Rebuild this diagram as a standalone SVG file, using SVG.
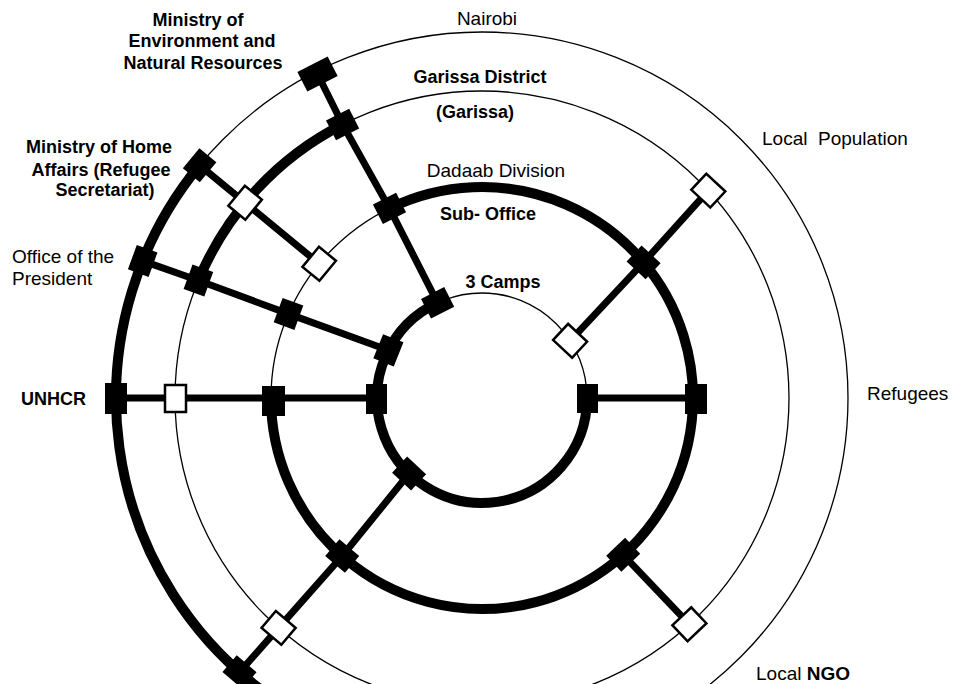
<svg xmlns="http://www.w3.org/2000/svg" xmlns:xlink="http://www.w3.org/1999/xlink" width="954" height="684" viewBox="0 0 954 684">
<style>
.thin{fill:none;stroke:#000;stroke-width:1.3}
.thick{fill:none;stroke:#000;stroke-width:10}
.spoke{fill:none;stroke:#000;stroke-width:7;stroke-linejoin:round}
.blk{fill:#000}
.opn{fill:#fff;stroke:#000;stroke-width:2.5}
text{font-family:"Liberation Sans",Arial,sans-serif;fill:#000}
.b{font-weight:bold;font-size:18px}
.r{font-size:19px}
.c{text-anchor:middle}
</style>
<defs>
<rect id="sq" x="-11" y="-13" width="22" height="26"/>
<rect id="sqw" x="-11" y="-17" width="22" height="34"/>
</defs>
<rect width="954" height="684" fill="#fff"/>
<g id="rings">
<circle class="thin" cx="482" cy="398" r="105"/>
<circle class="thin" cx="482" cy="398" r="211"/>
<circle class="thin" cx="482" cy="398" r="307"/>
<circle class="thin" cx="482" cy="398" r="366"/>
<path class="thick" d="M587 398A105 105 0 1 1 437.6 302.8"/>
<path class="thick" d="M389.5 208.4A211 211 0 1 1 271 398"/>
<path class="thick" d="M198.4 280.5A307 307 0 0 1 342.6 124.5"/>
<path class="thick" d="M272.1 697.8A366 366 0 0 1 199.6 165.2"/>
</g>
<g id="connectors">
<polyline class="spoke" points="317.5,74 342.6,124.5 389.5,208.4 437.6,302.8"/>
<polyline class="spoke" points="199.6,165.2 245.1,202.7 319.2,263.8"/>
<polyline class="spoke" points="142.7,260.9 198.4,280.5 288.5,313.9 388.4,350.3"/>
<polyline class="spoke" points="116,398 377,398"/>
<polyline class="spoke" points="239.5,672.1 278.6,627.9 342.2,556 409.1,473.5"/>
<polyline class="spoke" points="570.1,340.8 643.6,262.4 708.3,190.6"/>
<polyline class="spoke" points="587,398 693,398"/>
<polyline class="spoke" points="623.2,554.8 689.4,624.3"/>
</g>
<g id="n-env-nairobi"><use xlink:href="#sqw" class="blk" transform="translate(317.5,74) rotate(63)"/></g>
<g id="n-env-garissa"><use xlink:href="#sq" class="blk" transform="translate(342.6,124.5) rotate(63)"/></g>
<g id="n-env-dadaab"><use xlink:href="#sq" class="blk" transform="translate(389.5,208.4) rotate(63)"/></g>
<g id="n-env-camps"><use xlink:href="#sq" class="blk" transform="translate(437.6,302.8) rotate(63)"/></g>
<g id="n-home-nairobi"><use xlink:href="#sq" class="blk" transform="translate(199.6,165.2) rotate(39.5)"/></g>
<g id="n-home-garissa"><use xlink:href="#sq" class="opn" transform="translate(245.1,202.7) rotate(39.5)"/></g>
<g id="n-home-dadaab"><use xlink:href="#sq" class="opn" transform="translate(319.2,263.8) rotate(39.5)"/></g>
<g id="n-pres-nairobi"><use xlink:href="#sq" class="blk" transform="translate(142.7,260.9) rotate(20)"/></g>
<g id="n-pres-garissa"><use xlink:href="#sq" class="blk" transform="translate(198.4,280.5) rotate(20)"/></g>
<g id="n-pres-dadaab"><use xlink:href="#sq" class="blk" transform="translate(288.5,313.9) rotate(20)"/></g>
<g id="n-pres-camps"><use xlink:href="#sq" class="blk" transform="translate(388.4,350.3) rotate(22)"/></g>
<g id="n-unhcr-nairobi"><rect class="blk" x="105" y="383" width="22" height="31"/></g>
<g id="n-unhcr-garissa"><rect class="opn" x="165" y="385" width="21" height="27"/></g>
<g id="n-unhcr-dadaab"><rect class="blk" x="262" y="386" width="23" height="30"/></g>
<g id="n-unhcr-camps"><rect class="blk" x="366" y="384" width="21" height="30"/></g>
<g id="n-ll-nairobi"><use xlink:href="#sq" class="blk" transform="translate(239.5,672.1) rotate(-49.5)"/></g>
<g id="n-ll-garissa"><use xlink:href="#sq" class="opn" transform="translate(278.6,627.9) rotate(-49.5)"/></g>
<g id="n-ll-dadaab"><use xlink:href="#sq" class="blk" transform="translate(342.2,556) rotate(-49.5)"/></g>
<g id="n-ll-camps"><use xlink:href="#sq" class="blk" transform="translate(409.1,473.5) rotate(-47)"/></g>
<g id="n-pop-camps"><use xlink:href="#sq" class="opn" transform="translate(570.1,340.8) rotate(-47)"/></g>
<g id="n-pop-dadaab"><use xlink:href="#sq" class="blk" transform="translate(643.6,262.4) rotate(-47)"/></g>
<g id="n-pop-garissa"><use xlink:href="#sq" class="opn" transform="translate(708.3,190.6) rotate(-47)"/></g>
<g id="n-ref-camps"><rect class="blk" x="577" y="384" width="21" height="29"/></g>
<g id="n-ref-dadaab"><rect class="blk" x="685" y="384" width="22" height="30"/></g>
<g id="n-ngo-dadaab"><use xlink:href="#sq" class="blk" transform="translate(623.2,554.8) rotate(46.5)"/></g>
<g id="n-ngo-garissa"><use xlink:href="#sq" class="opn" transform="translate(689.4,624.3) rotate(46.5)"/></g>
<g id="labels">
<text class="b c" x="198" y="25.5">Ministry of</text>
<text class="b c" x="202" y="47">Environment and</text>
<text class="b c" x="203" y="68.5">Natural Resources</text>
<text class="b c" x="99" y="153">Ministry of Home</text>
<text class="b c" x="101" y="175.5">Affairs (Refugee</text>
<text class="b c" x="105" y="196">Secretariat)</text>
<text class="r" x="12" y="263">Office of the</text>
<text class="r" x="12" y="285">President</text>
<text class="b" x="21" y="405">UNHCR</text>
<text class="r c" x="487" y="25">Nairobi</text>
<text class="b c" x="480" y="83">Garissa District</text>
<text class="b c" x="475" y="118">(Garissa)</text>
<text class="r c" x="496" y="177">Dadaab Division</text>
<text class="b c" x="488" y="220">Sub- Office</text>
<text class="b c" x="503" y="288">3 Camps</text>
<text class="r" x="762" y="145" xml:space="preserve">Local  Population</text>
<text class="r" x="867" y="400">Refugees</text>
<text class="r" x="756" y="680">Local <tspan font-weight="bold">NGO</tspan></text>
</g>
</svg>
